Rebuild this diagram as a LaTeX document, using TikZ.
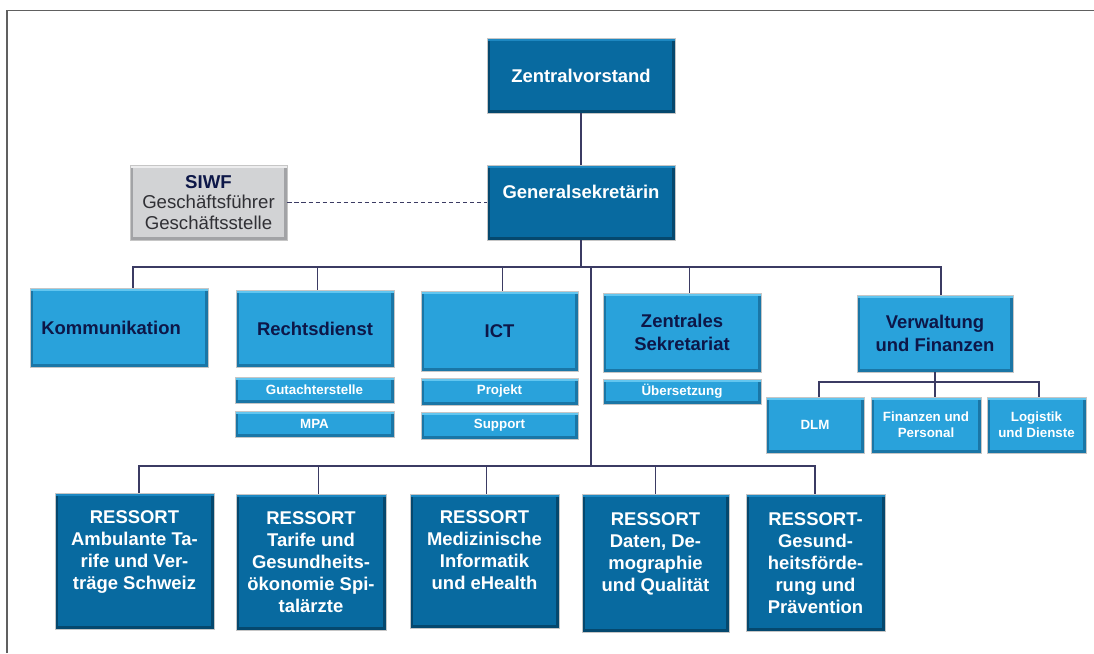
\documentclass[tikz,border=0pt]{standalone}
\usepackage{fontspec}
\setmainfont{Liberation Sans}
\usepackage{xcolor}
\usetikzlibrary{
    arrows.meta,
    shapes,
    positioning,
    calc
}
\definecolor{darkfill}{HTML}{086AA0}
\definecolor{darkedge}{HTML}{05486E}
\definecolor{darklight}{HTML}{1D88C2}
\definecolor{lightfill}{HTML}{29A2DB}
\definecolor{lightedge}{HTML}{1A76A6}
\definecolor{lightlight}{HTML}{62C6F0}
\definecolor{siwfgray}{HTML}{D2D3D5}
\definecolor{siwfedge}{HTML}{A2A3A6}
\definecolor{siwflight}{HTML}{EDEDEE}
\definecolor{siwftext}{HTML}{303035}
\definecolor{navy}{HTML}{0D1748}
\definecolor{linecol}{HTML}{3B3B63}
\newcommand{\rtext}[1]{\parbox[c][2.0cm][t]{2.7cm}{\centering #1}}
\tikzset{%
    % Specifications for style of nodes:
    plain/.style = {},
    base/.style = {
        plain,
        rectangle, draw=gray!45, line width=0.5pt,
        inner sep=0pt, text centered, align=center,
        font=\bfseries\fontsize{10.5}{13}\selectfont
    },
    bevel/.style n args = {3}{
        fill=#1,
        path picture={
            \draw[line width=3.6pt, #2]
                (path picture bounding box.north west) -- (path picture bounding box.south west)
                -- (path picture bounding box.south east) -- (path picture bounding box.north east);
            \draw[line width=3.6pt, #3]
                (path picture bounding box.north west) -- (path picture bounding box.north east);
        }
    },
    head/.style = {base, bevel={darkfill}{darkedge}{darklight}, text=white,
        minimum width=3.76cm, minimum height=1.5cm},
    dept/.style = {base, bevel={lightfill}{lightedge}{lightlight}, text=navy},
    sub/.style = {base, bevel={lightfill}{lightedge}{lightlight}, text=white,
        font=\bfseries\fontsize{7.6}{8.9}\selectfont},
    ressort/.style = {base, bevel={darkfill}{darkedge}{darklight}, text=white,
        font=\bfseries\fontsize{10.5}{12.5}\selectfont},
    staff/.style = {base, bevel={siwfgray}{siwfedge}{siwflight}, text=siwftext,
        font=\fontsize{10.6}{11.5}\selectfont},
    link/.style = {draw=linecol, line width=0.6pt}
}
\begin{document}
\begin{tikzpicture}[x=0.02cm, y=-0.02cm]
    \useasboundingbox (0,0) rectangle (1094,653);
    \draw[gray!75!black, line width=1.1pt] (7,653) -- (7,10.5) -- (1094,10.5);
    % top
    \node[head] (ZV) at (581,75.5) {Zentralvorstand};
    \node[head, text depth=12pt] (GS) at (581,202.5) {Generalsekretärin};
    \node[staff, minimum width=3.14cm, minimum height=1.5cm] (SIWF) at (208.5,202.5)
        {\textcolor{navy}{\bfseries SIWF}\\Geschäftsführer\\Geschäftsstelle};
    % departments
    \node[dept, minimum width=3.56cm, minimum height=1.58cm] (KOM) at (119,327.5) {Kommunikation\hspace*{9pt}};
    \node[dept, minimum width=3.16cm, minimum height=1.54cm] (RD) at (315,328.5) {Rechtsdienst};
    \node[sub, minimum width=3.18cm, minimum height=0.52cm] (GA) at (314.5,390) {Gutachterstelle};
    \node[sub, minimum width=3.18cm, minimum height=0.52cm] (MPA) at (314.5,424) {MPA};
    \node[dept, minimum width=3.14cm, minimum height=1.6cm] (ICT) at (499.5,331) {ICT};
    \node[sub, minimum width=3.14cm, minimum height=0.54cm] (PRJ) at (499.5,391.5) {Projekt};
    \node[sub, minimum width=3.14cm, minimum height=0.54cm] (SUP) at (499.5,425.5) {Support};
    \node[dept, minimum width=3.16cm, minimum height=1.58cm] (ZS) at (682,332.5) {Zentrales\\Sekretariat};
    \node[sub, minimum width=3.16cm, minimum height=0.5cm] (UEB) at (682,391.5) {Übersetzung};
    \node[dept, minimum width=3.12cm, minimum height=1.54cm] (VF) at (935,333.5) {Verwaltung\\und Finanzen};
    \node[sub, minimum width=1.96cm, minimum height=1.12cm] (DLM) at (815,425) {DLM};
    \node[sub, minimum width=2.2cm, minimum height=1.12cm] (FP) at (926,425) {Finanzen und\\Personal};
    \node[sub, minimum width=1.98cm, minimum height=1.12cm] (LD) at (1036.5,425) {Logistik\\und Dienste};
    % ressorts
    \node[ressort, minimum width=3.18cm, minimum height=2.72cm] (R1) at (134.5,561)
        {\rtext{RESSORT\\Ambulante Ta-\\rife und Ver-\\träge Schweiz}};
    \node[ressort, minimum width=3.0cm, minimum height=2.72cm] (R2) at (311,562)
        {\rtext{RESSORT\\Tarife und\\Gesundheits-\\ökonomie Spi-\\talärzte}};
    \node[ressort, minimum width=2.98cm, minimum height=2.68cm] (R3) at (484.5,561)
        {\rtext{RESSORT\\Medizinische\\Informatik\\und eHealth}};
    \node[ressort, minimum width=2.94cm, minimum height=2.76cm] (R4) at (655.5,563)
        {\rtext{RESSORT\\Daten, De-\\mographie\\und Qualität}};
    \node[ressort, minimum width=2.78cm, minimum height=2.74cm] (R5) at (815.5,562.5)
        {\rtext{RESSORT-\\Gesund-\\heitsförde-\\rung und\\Prävention}};
    % lines
    \coordinate (B1) at (591,267);
    \coordinate (B2) at (591,466);
    \coordinate (BL1) at (133,267);
    \coordinate (BR1) at (941,267);
    \coordinate (BL2) at (139,466);
    \coordinate (BR2) at (815,466);
    \coordinate (BV) at (935,382);
    \coordinate (BVL) at (819,382);
    \coordinate (BVR) at (1039,382);
    \draw[link] (ZV) -- (GS);
    \draw[link, dash pattern=on 2.4pt off 1.6pt] (SIWF) -- (GS);
    \draw[link] (GS) -- (GS |- B1);
    \draw[link] (BL1 |- KOM.north) -- (BL1) -- (BR1) -- (BR1 |- VF.north);
    \draw[link] ([xshift=1.5pt]RD.north) -- ([xshift=1.5pt]RD.north |- B1);
    \draw[link] ([xshift=1.7pt]ICT.north) -- ([xshift=1.7pt]ICT.north |- B1);
    \draw[link] ([xshift=4pt]ZS.north) -- ([xshift=4pt]ZS.north |- B1);
    \draw[link] (B1) -- (B2);
    \draw[link] (BL2 |- R1.north) -- (BL2) -- (BR2) -- (BR2 |- R5.north);
    \draw[link] ([xshift=4.5pt]R2.north) -- ([xshift=4.5pt]R2.north |- B2);
    \draw[link] ([xshift=1.4pt]R3.north) -- ([xshift=1.4pt]R3.north |- B2);
    \draw[link] (R4) -- (R4 |- B2);
    \draw[link] (VF) -- (BV);
    \draw[link] (BVL |- DLM.north) -- (BVL) -- (BVR) -- (BVR |- LD.north);
    \draw[link] (BV) -- (BV |- FP.north);
\end{tikzpicture}
\end{document}
